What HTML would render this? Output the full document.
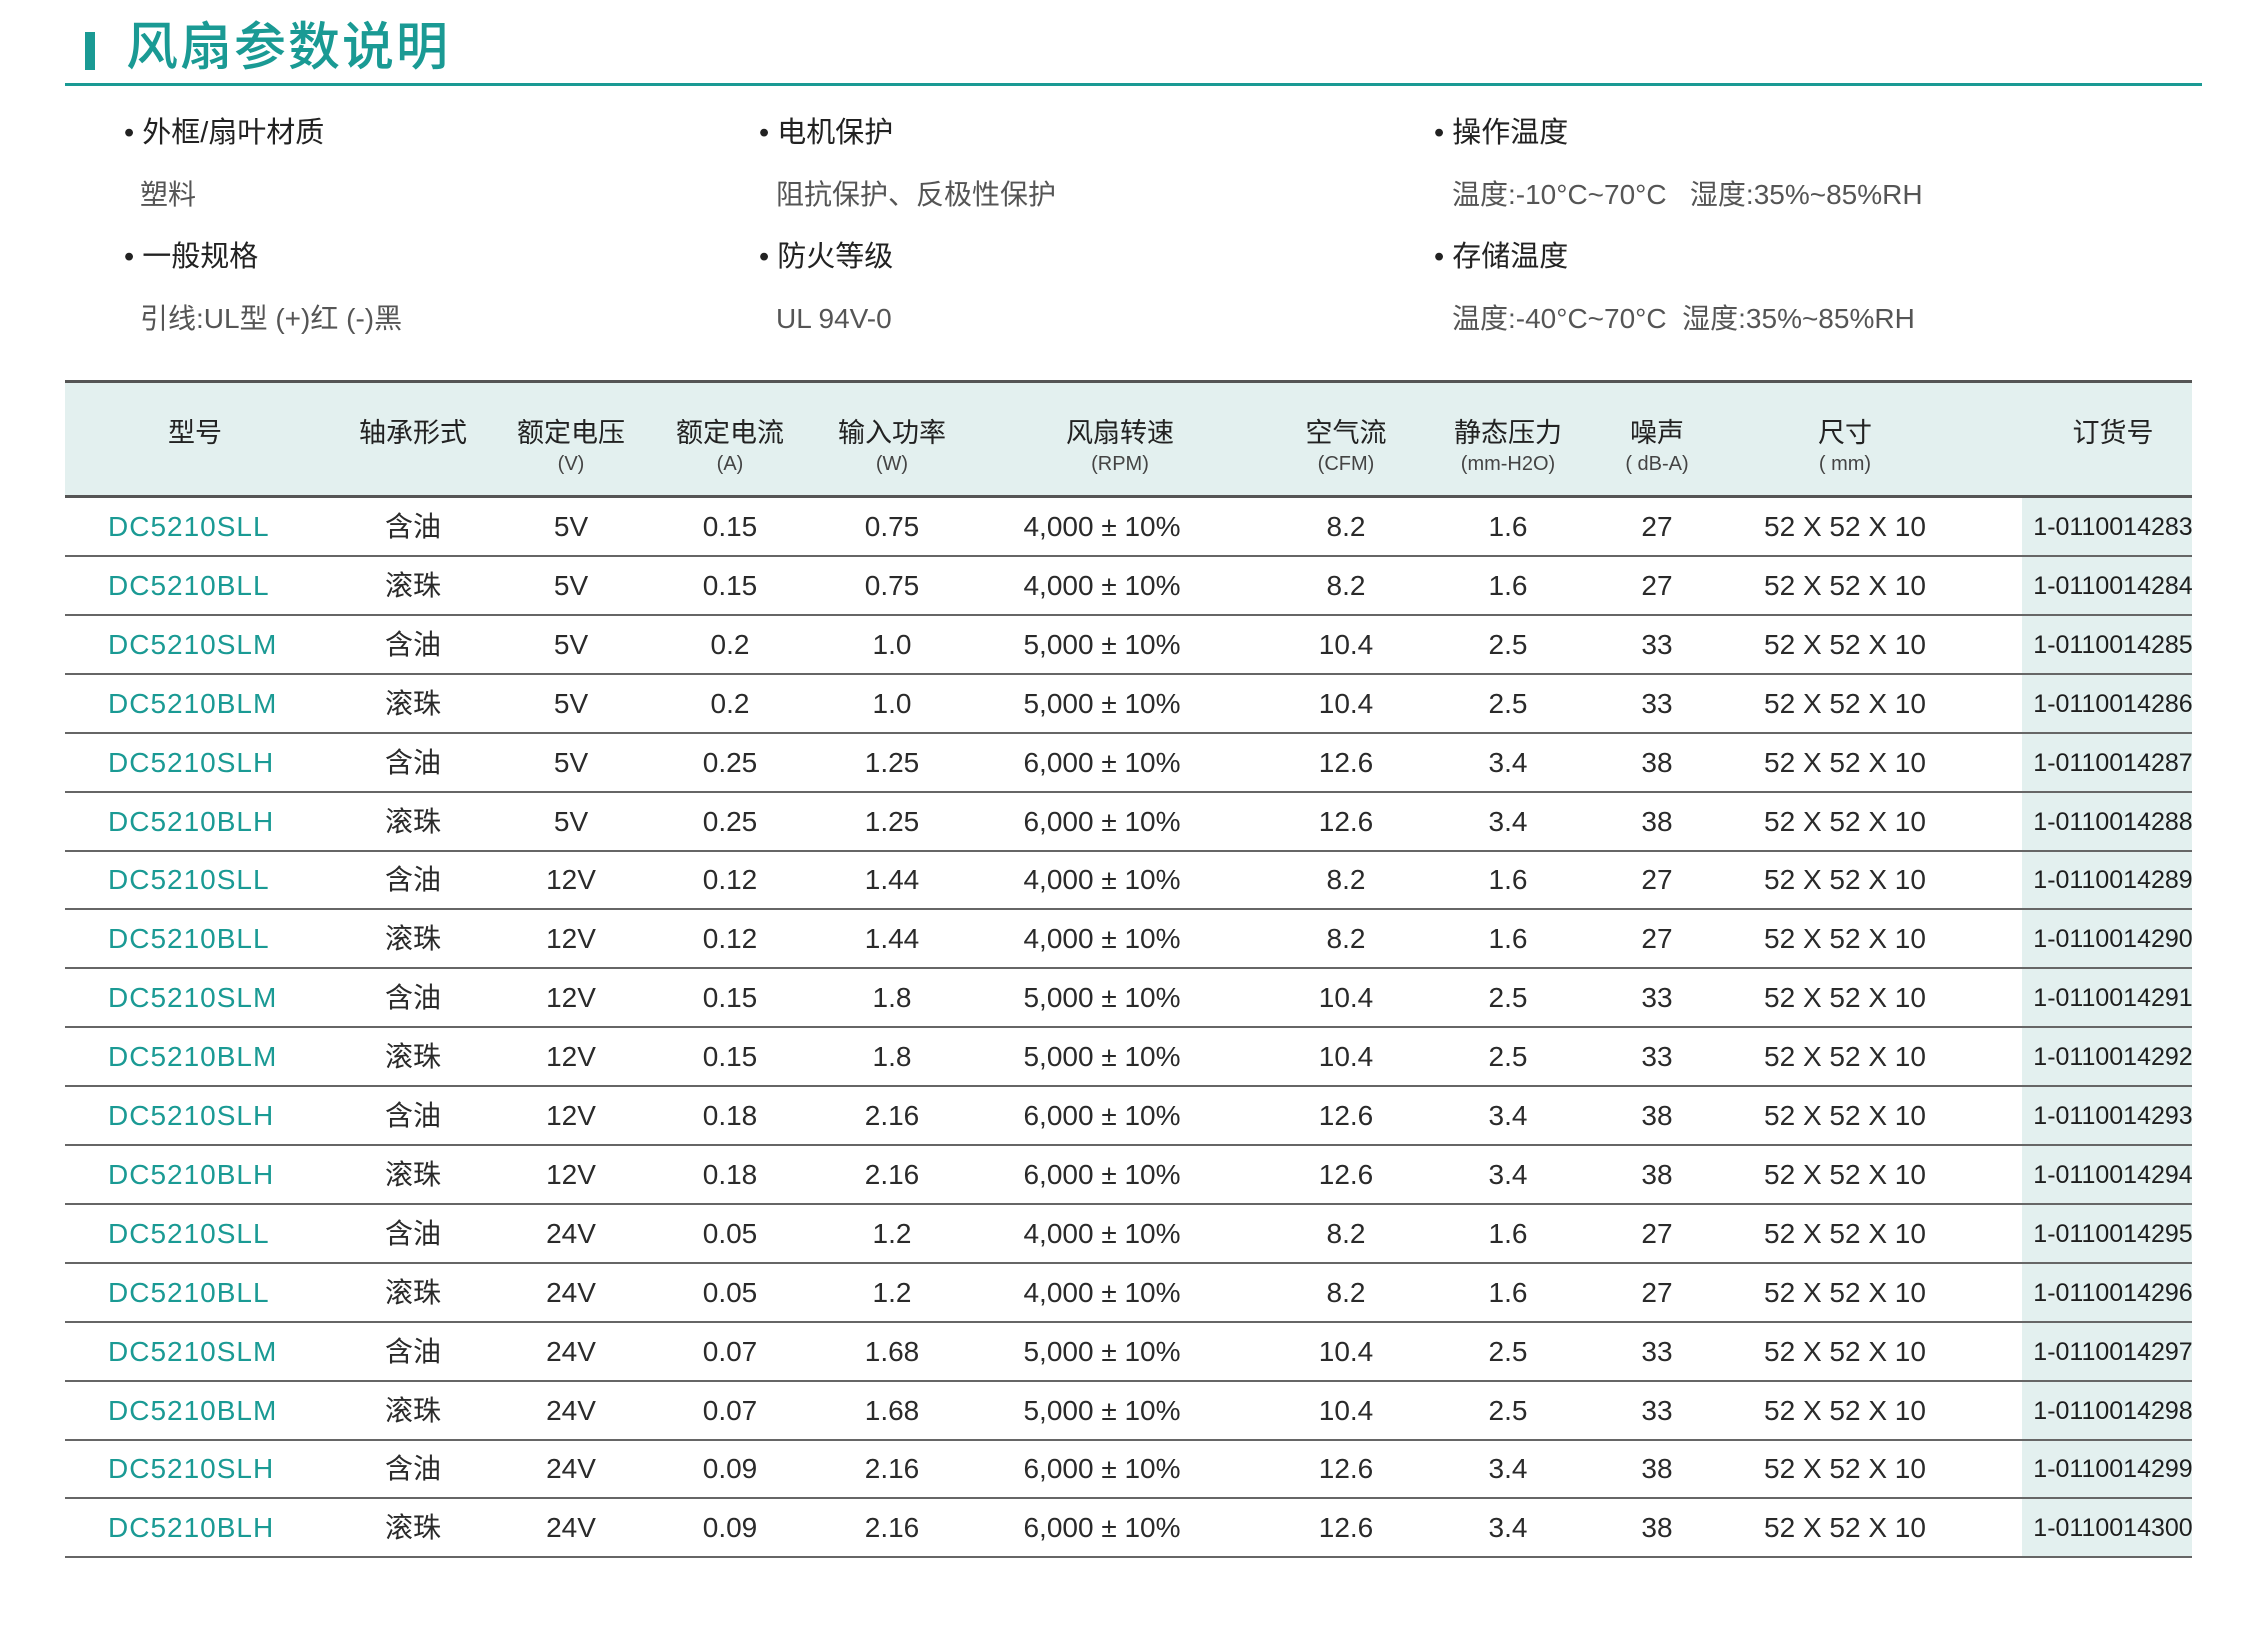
<!DOCTYPE html>
<html><head><meta charset="utf-8">
<style>
*{margin:0;padding:0;box-sizing:border-box}
body{width:2255px;height:1627px;background:#fff;position:relative;overflow:hidden;font-family:"Liberation Sans","Noto Sans CJK SC",sans-serif;color:#2a2a2a}
.abs{position:absolute;white-space:nowrap}
#title-bar{left:85px;top:32px;width:10px;height:38px;background:#1a9a94}
#title{left:126px;top:16px;font-size:52px;color:#1a9a94;font-weight:500;letter-spacing:2px;line-height:64px}
#title-line{left:65px;top:83px;width:2137px;height:3px;background:#1a9a94}
.ih{font-size:29px;color:#222;line-height:36px}
.iv{font-size:28px;color:#555;line-height:36px}
#thead{left:65px;top:380px;width:2127px;height:118px;background:#e3f0ef;border-top:3px solid #555;border-bottom:3px solid #555}
.hc{position:absolute;top:28px;font-size:27px;color:#222;transform:translateX(-50%);white-space:nowrap}
.hu{position:absolute;top:70px;font-size:20px;color:#444;transform:translateX(-50%);white-space:nowrap}
#order-bg{left:2022px;top:498px;width:170px;height:1060px;background:#e3f0ef}
.row{position:absolute;left:65px;width:2127px;height:59px;border-bottom:2px solid #666}
.c{position:absolute;top:13px;font-size:28px;line-height:32px;transform:translateX(-50%);white-space:nowrap;color:#2a2a2a}
.model{transform:none;color:#1a9a94;letter-spacing:1px}
.ord{font-size:25px;color:#1e1e1e}
</style></head><body>
<div class="abs" id="title-bar"></div>
<div class="abs" id="title">风扇参数说明</div>
<div class="abs" id="title-line"></div>

<div class="abs ih" style="left:124px;top:115px">• 外框/扇叶材质</div>
<div class="abs iv" style="left:140px;top:177px">塑料</div>
<div class="abs ih" style="left:124px;top:239px">• 一般规格</div>
<div class="abs iv" style="left:140px;top:301px">引线:UL型 (+)红 (-)黑</div>

<div class="abs ih" style="left:759px;top:115px">• 电机保护</div>
<div class="abs iv" style="left:776px;top:177px">阻抗保护、反极性保护</div>
<div class="abs ih" style="left:759px;top:239px">• 防火等级</div>
<div class="abs iv" style="left:776px;top:301px">UL 94V-0</div>

<div class="abs ih" style="left:1434px;top:115px">• 操作温度</div>
<div class="abs iv" style="left:1452px;top:177px">温度:-10°C~70°C &nbsp; 湿度:35%~85%RH</div>
<div class="abs ih" style="left:1434px;top:239px">• 存储温度</div>
<div class="abs iv" style="left:1452px;top:301px">温度:-40°C~70°C &nbsp;湿度:35%~85%RH</div>

<div class="abs" id="thead">
  <div class="hc" style="left:130px">型号</div>
  <div class="hc" style="left:348px">轴承形式</div>
  <div class="hc" style="left:506px">额定电压</div><div class="hu" style="left:506px">(V)</div>
  <div class="hc" style="left:665px">额定电流</div><div class="hu" style="left:665px">(A)</div>
  <div class="hc" style="left:827px">输入功率</div><div class="hu" style="left:827px">(W)</div>
  <div class="hc" style="left:1055px">风扇转速</div><div class="hu" style="left:1055px">(RPM)</div>
  <div class="hc" style="left:1281px">空气流</div><div class="hu" style="left:1281px">(CFM)</div>
  <div class="hc" style="left:1443px">静态压力</div><div class="hu" style="left:1443px">(mm-H2O)</div>
  <div class="hc" style="left:1592px">噪声</div><div class="hu" style="left:1592px">( dB-A)</div>
  <div class="hc" style="left:1780px">尺寸</div><div class="hu" style="left:1780px">( mm)</div>
  <div class="hc" style="left:2048px">订货号</div>
</div>
<div class="abs" id="order-bg"></div>
<div id="rows"></div>
<script>
const models=["DC5210SLL","DC5210BLL","DC5210SLM","DC5210BLM","DC5210SLH","DC5210BLH"];
const bearings=["含油","滚珠"];
const voltages=["5V","12V","24V"];
const currents=["0.15","0.15","0.2","0.2","0.25","0.25","0.12","0.12","0.15","0.15","0.18","0.18","0.05","0.05","0.07","0.07","0.09","0.09"];
const powers=["0.75","0.75","1.0","1.0","1.25","1.25","1.44","1.44","1.8","1.8","2.16","2.16","1.2","1.2","1.68","1.68","2.16","2.16"];
const speeds=["4,000 ± 10%","5,000 ± 10%","6,000 ± 10%"];
const airflows=["8.2","10.4","12.6"];
const pressures=["1.6","2.5","3.4"];
const noises=["27","33","38"];
const sizeLabel="52 X 52 X 10";
const colX=[43,348,506,665,827,1037,1281,1443,1592,1780,2048];
const rowsEl=document.getElementById('rows');
for(let i=0;i<18;i++){
  const r=document.createElement('div');
  r.className='row';
  r.style.top=(498+i*58.9)+'px';
  
  
  const lvl=Math.floor((i%6)/2);
  const vals=[models[i%6],bearings[i%2],voltages[Math.floor(i/6)],currents[i],powers[i],speeds[lvl],airflows[lvl],pressures[lvl],noises[lvl],sizeLabel,"1-"+(110014283+i).toString().padStart(10,"0")];
  const names=['model','bearing','voltage','current','power','speed','airflow','pressure','noise','size','order-no'];
  vals.forEach((v,j)=>{
    const c=document.createElement('div');
    c.className='c'+(j==0?' model':'')+(j==10?' ord':'');
    c.style.left=colX[j]+'px';
    c.textContent=v;
    
    
    r.appendChild(c);
  });
  rowsEl.appendChild(r);
}
</script>
</body></html>
